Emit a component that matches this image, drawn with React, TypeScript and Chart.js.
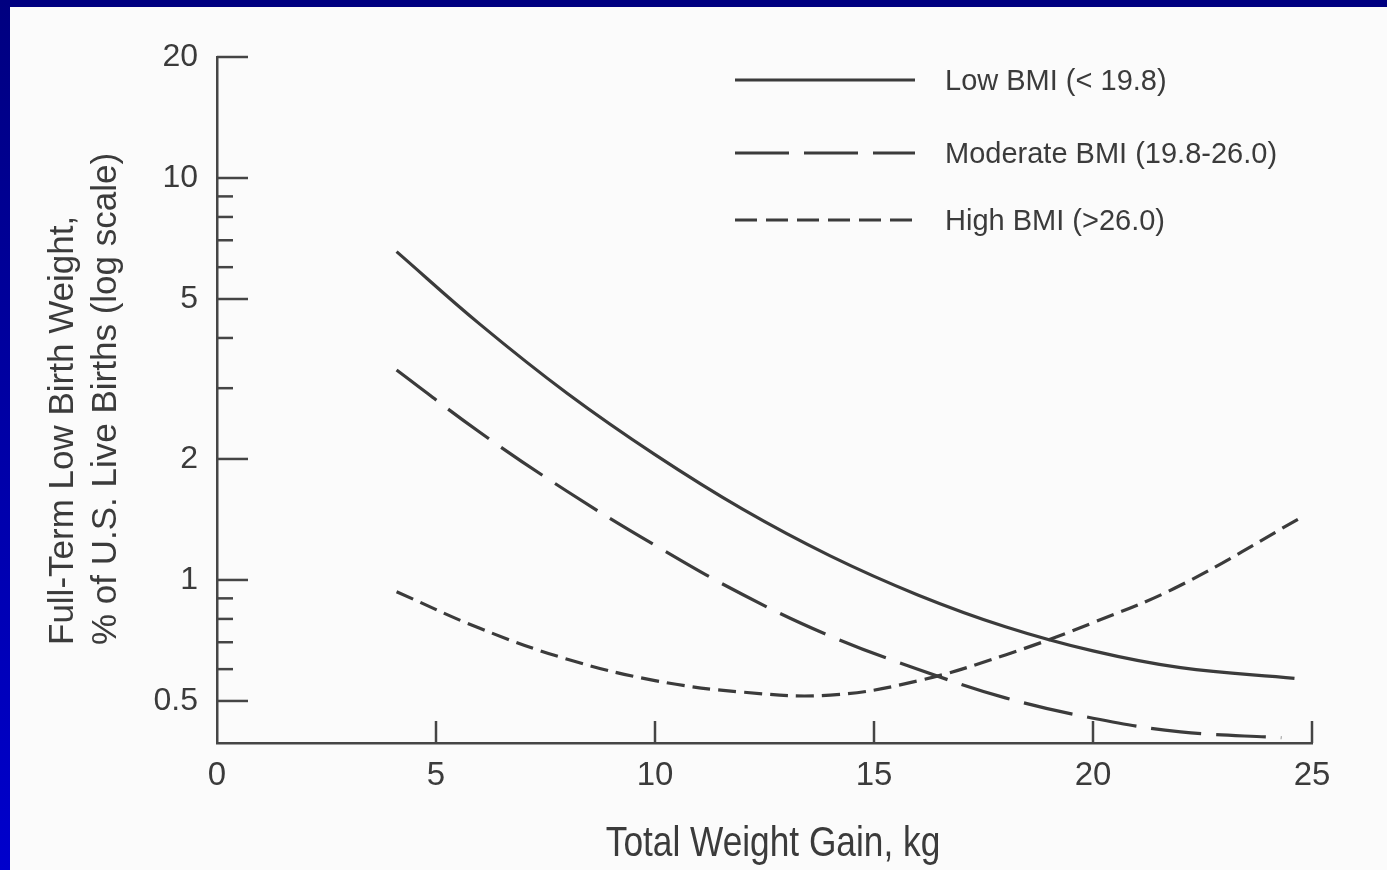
import React, { useEffect, useRef } from "react";
import { Chart, registerables } from "chart.js";

Chart.register(...registerables);

// ---- data ----
const SERIES_LABELS = ["Low BMI (< 19.8)", "Moderate BMI (19.8-26.0)", "High BMI (>26.0)"];

const LOW_X = [4.1, 6, 8, 10, 12, 14, 16, 18, 20, 22, 24.6];
const LOW_Y = [6.56, 4.33, 2.91, 2.05, 1.5, 1.148, 0.918, 0.765, 0.666, 0.605, 0.569];

const MOD_X = [4.1, 6, 8, 10, 12, 14, 16, 18, 20, 22, 24.3];
const MOD_Y = [3.33, 2.33, 1.66, 1.22, 0.92, 0.725, 0.6, 0.509, 0.453, 0.419, 0.405];

const HIGH_X = [4.1, 6, 8, 10, 12, 14, 16, 18, 20, 22, 24.8];
const HIGH_Y = [0.935, 0.758, 0.635, 0.562, 0.526, 0.517, 0.561, 0.651, 0.783, 0.97, 1.44];

const X_TICKS = [0, 5, 10, 15, 20, 25];
const Y_MAJOR = [0.5, 1, 2, 5, 10, 20];
const Y_MINOR = [0.6, 0.7, 0.8, 0.9, 3, 4, 6, 7, 8, 9];
const Y_MIN = 0.393;
const Y_MAX = 20;

const X_TITLE = "Total Weight Gain, kg";
const Y_TITLE = ["Full-Term Low Birth Weight,", "% of U.S. Live Births (log scale)"];

// ---- styles ----
const INK = "#3b3b3b";
const AXIS = "#454545";
const SANS = '"Liberation Sans", Arial, Helvetica, sans-serif';
const DASHES: number[][] = [[], [50, 15], [18, 8]];
const LEGEND_DASHES: number[][] = [[], [54, 15], [22, 9]];

const toPoints = (xs: number[], ys: number[]) => xs.map((x, i) => ({ x, y: ys[i] }));

const decorPlugin = {
  id: "decor",
  afterDraw(chart: any) {
    const { ctx, chartArea: ca, scales } = chart;
    const xs = scales.x;
    const ys = scales.y;
    ctx.save();
    ctx.strokeStyle = AXIS;
    ctx.lineWidth = 2.5;
    ctx.setLineDash([]);
    const seg = (x1: number, y1: number, x2: number, y2: number) => {
      ctx.beginPath();
      ctx.moveTo(x1, y1);
      ctx.lineTo(x2, y2);
      ctx.stroke();
    };
    // inward tick marks
    for (const v of Y_MAJOR) {
      const y = ys.getPixelForValue(v);
      seg(ca.left, y, ca.left + 31, y);
    }
    for (const v of Y_MINOR) {
      const y = ys.getPixelForValue(v);
      seg(ca.left, y, ca.left + 16, y);
    }
    for (const v of X_TICKS) {
      if (v === 0) continue;
      const x = xs.getPixelForValue(v);
      seg(x, ca.bottom, x, ca.bottom - 22);
    }

    // y-axis title (two left-aligned rotated lines)
    ctx.fillStyle = INK;
    ctx.font = `35px ${SANS}`;
    ctx.textAlign = "left";
    ctx.textBaseline = "middle";
    Y_TITLE.forEach((t, i) => {
      ctx.save();
      ctx.translate(63 + i * 43, 645);
      ctx.rotate(-Math.PI / 2);
      ctx.fillText(t, 0, 0);
      ctx.restore();
    });

    // x-axis title (condensed face)
    ctx.save();
    ctx.font = `43px ${SANS}`;
    ctx.textAlign = "center";
    ctx.textBaseline = "alphabetic";
    ctx.translate(773, 856);
    ctx.scale(0.82, 1);
    ctx.fillText(X_TITLE, 0, 0);
    ctx.restore();

    // legend
    const rowsY = [80, 153, 220];
    chart.data.datasets.forEach((ds: any, i: number) => {
      const y = rowsY[i];
      ctx.strokeStyle = ds.borderColor;
      ctx.lineWidth = ds.borderWidth;
      ctx.setLineDash(LEGEND_DASHES[i]);
      seg(735, y, 915, y);
      ctx.setLineDash([]);
      ctx.fillStyle = INK;
      ctx.font = `29px ${SANS}`;
      ctx.textAlign = "left";
      ctx.textBaseline = "middle";
      ctx.fillText(ds.label, 945, y + 2);
    });
    ctx.restore();
  },
};

export default function App() {
  const ref = useRef<HTMLCanvasElement>(null);

  useEffect(() => {
    const canvas = ref.current;
    if (!canvas) return;
    const series = [
      toPoints(LOW_X, LOW_Y),
      toPoints(MOD_X, MOD_Y),
      toPoints(HIGH_X, HIGH_Y),
    ];
    const chart = new Chart(canvas, {
      type: "line",
      data: {
        datasets: series.map((pts, i) => ({
          label: SERIES_LABELS[i],
          data: pts,
          borderColor: INK,
          borderWidth: 3.2,
          borderDash: DASHES[i],
          pointRadius: 0,
          fill: false,
          tension: 0.4,
        })),
      },
      options: {
        animation: false,
        responsive: false,
        events: [],
        layout: { padding: { left: 0, right: 75, top: 57, bottom: 0 } },
        plugins: {
          legend: { display: false },
          tooltip: { enabled: false },
        },
        scales: {
          x: {
            type: "linear",
            min: 0,
            max: 25,
            grid: { display: false, drawTicks: false },
            border: { display: true, color: AXIS, width: 2.5 },
            afterBuildTicks: (scale: any) => {
              scale.ticks = X_TICKS.map((v) => ({ value: v }));
            },
            afterFit: (scale: any) => {
              scale.height = 127;
            },
            ticks: {
              autoSkip: false,
              maxRotation: 0,
              padding: 13,
              color: INK,
              font: { family: SANS, size: 33 },
              callback: (v: any) => String(v),
            },
            title: { display: false },
          },
          y: {
            type: "logarithmic",
            min: Y_MIN,
            max: Y_MAX,
            grid: { display: false, drawTicks: false },
            border: { display: true, color: AXIS, width: 2.5 },
            afterBuildTicks: (scale: any) => {
              scale.ticks = [...Y_MAJOR, ...Y_MINOR]
                .sort((a, b) => a - b)
                .map((v) => ({ value: v }));
            },
            afterFit: (scale: any) => {
              scale.width = 217;
            },
            ticks: {
              autoSkip: false,
              padding: 19,
              color: INK,
              font: { family: SANS, size: 32 },
              callback: (v: any) => (Y_MAJOR.includes(Number(v)) ? String(v) : ""),
            },
          },
        },
      },
      plugins: [decorPlugin],
    } as any);
    return () => chart.destroy();
  }, []);

  return (
    <div
      style={{
        position: "fixed",
        left: 0,
        top: 0,
        width: 1387,
        height: 870,
        background: "linear-gradient(to bottom, #000080, #0000cc)",
      }}
    >
      <div
        style={{
          position: "absolute",
          left: 10,
          top: 7,
          right: 0,
          bottom: 0,
          background: "#fbfbfb",
        }}
      />
      <canvas
        ref={ref}
        width={1387}
        height={870}
        style={{ position: "absolute", left: 0, top: 0, width: 1387, height: 870 }}
      />
    </div>
  );
}
